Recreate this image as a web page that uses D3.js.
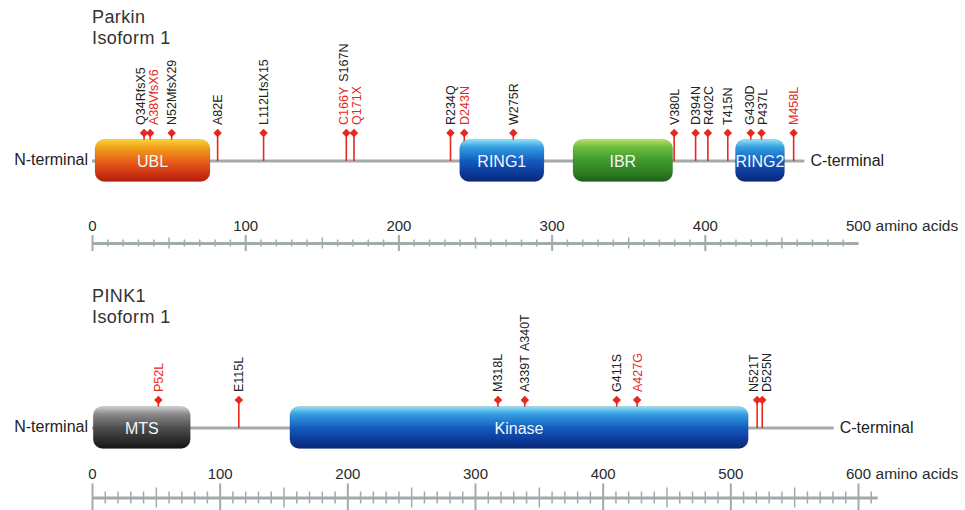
<!DOCTYPE html>
<html>
<head>
<meta charset="utf-8">
<script src="https://cdn.jsdelivr.net/npm/d3@7"></script>
<style>
  body { margin: 0; background: #fff; }
  svg { display: block; font-family: "Liberation Sans", Arial, Helvetica, sans-serif; }
</style>
</head>
<body>
<svg id="chart" width="965" height="510"></svg>
<script>
// ---- data ----
const parkinLength = 465;
const parkinDomains = [
  { name: "UBL", start: 2, end: 77 },
  { name: "RING1", start: 240, end: 295 },
  { name: "IBR", start: 314, end: 379 },
  { name: "RING2", start: 420, end: 452 },
];
const parkinMutations = [
  { pos: 34, label: "Q34RfsX5" },
  { pos: 38, label: "A38VfsX6", red: true },
  { pos: 52, label: "N52MfsX29" },
  { pos: 82, label: "A82E" },
  { pos: 112, label: "L112LfsX15" },
  { pos: 166, label: "C166Y", red: true, next: "S167N" },
  { pos: 171, label: "Q171X", red: true },
  { pos: 234, label: "R234Q" },
  { pos: 243, label: "D243N", red: true },
  { pos: 275, label: "W275R" },
  { pos: 380, label: "V380L" },
  { pos: 394, label: "D394N" },
  { pos: 402, label: "R402C" },
  { pos: 415, label: "T415N" },
  { pos: 430, label: "G430D" },
  { pos: 437, label: "P437L" },
  { pos: 458, label: "M458L", red: true },
];
const parkinTickLabels = [0, 100, 200, 300, 400, 500];

const pinkLength = 581;
const pinkDomains = [
  { name: "MTS", start: 1, end: 77 },
  { name: "Kinase", start: 155, end: 514 },
];
const pinkMutations = [
  { pos: 52, label: "P52L", red: true },
  { pos: 115, label: "E115L" },
  { pos: 318, label: "M318L" },
  { pos: 339, label: "A339T", next: "A340T" },
  { pos: 411, label: "G411S" },
  { pos: 427, label: "A427G", red: true },
  { pos: 521, label: "N521T" },
  { pos: 525, label: "D525N" },
];
const pinkTickLabels = [0, 100, 200, 300, 400, 500, 600];

// domain name -> gradient
const domainFill = {
  UBL: "g-ubl", RING1: "g-blue", RING2: "g-blue", Kinase: "g-blue",
  IBR: "g-green", MTS: "g-gray",
};

const RED = "#e8281e";
const TXT = "#222";
const GREY = "#a2abaa";

const svg = d3.select("#chart");

// glossy vertical gradients
const defs = svg.append("defs");
const gradients = {
  "g-ubl": ["#f9d23a", "#f2a51c", "#e8641a", "#cf3512", "#b21d0c"],
  "g-blue": ["#8fe0fa", "#35a0e2", "#145cc0", "#0c3a98", "#0a2776"],
  "g-green": ["#b6e06a", "#6cbd3c", "#3f9a2c", "#2c7d22", "#1f5f1a"],
  "g-gray": ["#cfcfcf", "#8a8a8a", "#4f4f4f", "#2c2c2c", "#151515"],
};
Object.entries(gradients).forEach(([id, cols]) => {
  const lg = defs.append("linearGradient").attr("id", id)
    .attr("x1", 0).attr("y1", 0).attr("x2", 0).attr("y2", 1);
  const offs = [0, 0.18, 0.5, 0.8, 1];
  cols.forEach((c, i) => lg.append("stop").attr("offset", offs[i]).attr("stop-color", c));
});

// push overlapping labels apart, keeping groups centred on their stems
function spreadLabels(xs, gap) {
  let groups = xs.map((x, i) => ({ idx: [i], xs: [x], c: x }));
  let changed = true;
  while (changed) {
    changed = false;
    for (let i = 1; i < groups.length; i++) {
      const a = groups[i - 1], b = groups[i];
      const aEnd = a.c + (a.xs.length - 1) * gap / 2;
      const bStart = b.c - (b.xs.length - 1) * gap / 2;
      if (bStart - aEnd < gap - 0.01) {
        const xsM = a.xs.concat(b.xs);
        groups.splice(i - 1, 2, { idx: a.idx.concat(b.idx), xs: xsM, c: d3.mean(xsM) });
        changed = true;
        break;
      }
    }
  }
  const out = [];
  groups.forEach(g => {
    const n = g.xs.length;
    g.idx.forEach((id, k) => { out[id] = g.c + (k - (n - 1) / 2) * gap; });
  });
  return out;
}

function drawProtein(opt) {
  const x = d3.scaleLinear().domain([0, opt.axisMax]).range([92, 92 + opt.axisMax * opt.pxPerAa]);
  const g = svg.append("g");
  const yb = opt.backboneY;

  // title
  const title = g.append("text").attr("x", 92).attr("y", opt.titleY)
    .attr("fill", "#333").style("font-size", "18px").style("letter-spacing", "0.4px");
  title.append("tspan").attr("x", 92).text(opt.name);
  title.append("tspan").attr("x", 92).attr("dy", 21).text("Isoform 1");

  // backbone
  g.append("line").attr("x1", x(0)).attr("x2", x(opt.length))
    .attr("y1", yb).attr("y2", yb).attr("stroke", GREY).attr("stroke-width", 3);

  g.append("text").attr("x", 88).attr("y", yb - 2).attr("dy", "0.35em")
    .attr("text-anchor", "end").attr("fill", TXT).style("font-size", "16px").text("N-terminal");
  g.append("text").attr("x", x(opt.length) + 6).attr("y", yb - 1).attr("dy", "0.35em")
    .attr("fill", TXT).style("font-size", "16px").text("C-terminal");

  const diamondY = yb - 28;

  // stems
  g.append("g").selectAll("line").data(opt.mutations).join("line")
    .attr("x1", d => x(d.pos)).attr("x2", d => x(d.pos))
    .attr("y1", yb).attr("y2", diamondY)
    .attr("stroke", RED).attr("stroke-width", 1.6);

  // domains
  const dom = g.append("g").selectAll("g").data(opt.domains).join("g");
  dom.append("rect")
    .attr("x", d => x(d.start)).attr("width", d => x(d.end) - x(d.start))
    .attr("y", yb - 21.5).attr("height", 42).attr("rx", 9)
    .attr("fill", d => `url(#${domainFill[d.name]})`)
    .attr("stroke", "rgba(0,0,0,0.12)").attr("stroke-width", 1);
  dom.append("text")
    .attr("x", d => (x(d.start) + x(d.end)) / 2).attr("y", yb).attr("dy", "0.35em")
    .attr("text-anchor", "middle").attr("fill", "#f4f6fb")
    .style("font-size", "16px").text(d => d.name);

  // diamonds
  g.append("g").selectAll("path").data(opt.mutations).join("path")
    .attr("d", d3.symbol(d3.symbolDiamond2, 46))
    .attr("transform", d => `translate(${x(d.pos)},${diamondY})`)
    .attr("fill", RED);

  // labels
  const lx = spreadLabels(opt.mutations.map(d => x(d.pos)), 13);
  const lab = g.append("g").selectAll("text").data(opt.mutations).join("text")
    .attr("transform", (d, i) => `translate(${lx[i]},${diamondY - 8}) rotate(-90)`)
    .attr("dy", "0.36em").style("font-size", "12.5px");
  lab.append("tspan").attr("fill", d => d.red ? RED : TXT).text(d => d.label);
  lab.filter(d => d.next).append("tspan").attr("dx", 5).attr("fill", TXT).text(d => d.next);

  // ruler
  const ay = opt.axisY;
  const ticks = d3.range(0, opt.axisMax, 10);
  const tickLen = v => v % 100 === 0 ? opt.tickLens[0] : (v % 50 === 0 ? opt.tickLens[1] : opt.tickLens[2]);
  const ruler = g.append("g").attr("transform", `translate(0,${ay})`)
    .call(d3.axisBottom(x).tickValues(ticks).tickFormat("").tickSizeOuter(0));
  ruler.select(".domain").attr("stroke", GREY).attr("stroke-width", 3);
  ruler.selectAll(".tick line")
    .attr("y1", d => -tickLen(d)).attr("y2", d => tickLen(d))
    .attr("stroke", GREY).attr("stroke-width", d => d % 100 === 0 ? 2 : 1.5);

  const labels = g.append("g").attr("transform", `translate(0,${ay})`)
    .call(d3.axisTop(x).tickValues(opt.tickLabels).tickSize(0).tickPadding(opt.labelGap));
  labels.select(".domain").remove();
  labels.selectAll(".tick text").attr("fill", "#2a2a2a")
    .style("font-size", "15px").style("font-family", "inherit");

  const last = d3.max(opt.tickLabels);
  const lastNode = labels.selectAll(".tick text").filter(d => d === last).node();
  const w = lastNode.getComputedTextLength();
  g.append("text").attr("x", x(last) + w / 2 + 5).attr("y", ay - opt.labelGap)
    .attr("fill", "#2a2a2a").style("font-size", "15.5px").text("amino acids");
}

drawProtein({
  name: "Parkin", titleY: 23, backboneY: 161, length: parkinLength,
  domains: parkinDomains, mutations: parkinMutations,
  axisMax: 500, pxPerAa: 766 / 500, axisY: 243, tickLens: [8, 5.5, 3.5], labelGap: 12.5,
  tickLabels: parkinTickLabels,
});

drawProtein({
  name: "PINK1", titleY: 302, backboneY: 428, length: pinkLength,
  domains: pinkDomains, mutations: pinkMutations,
  axisMax: 615, pxPerAa: 766 / 600, axisY: 497.5, tickLens: [14, 10, 6], labelGap: 18.5,
  tickLabels: pinkTickLabels,
});
</script>
</body>
</html>
